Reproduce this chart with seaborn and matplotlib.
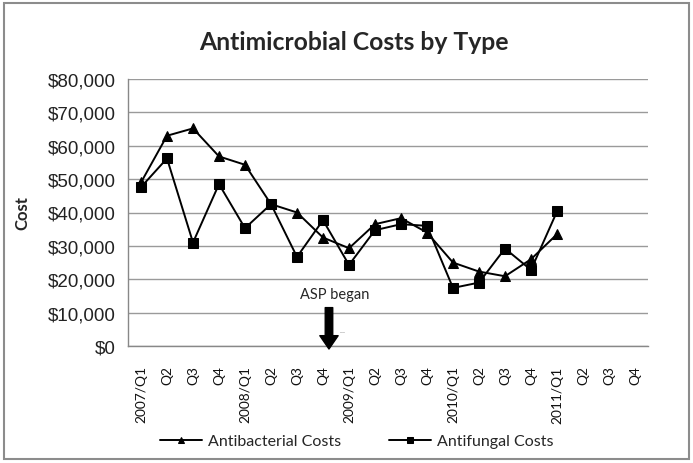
import matplotlib
matplotlib.use("Agg")
import matplotlib.pyplot as plt
import matplotlib.patches as mpatches
import seaborn as sns
import pandas as pd
import numpy as np

# Quarterly categories shown on the x axis
quarters = ["2007/Q1", "Q2", "Q3", "Q4",
            "2008/Q1", "Q2", "Q3", "Q4",
            "2009/Q1", "Q2", "Q3", "Q4",
            "2010/Q1", "Q2", "Q3", "Q4",
            "2011/Q1", "Q2", "Q3", "Q4"]

# Costs per quarter (2007/Q1 .. 2011/Q1)
antibacterial = [49000, 63000, 65200, 56800, 54300, 42500, 40000, 32500, 29300,
                 36500, 38300, 34000, 25000, 22300, 20900, 26000, 33500]
antifungal = [47600, 56200, 31000, 48500, 35300, 42500, 26700, 37700, 24300,
              34700, 36500, 36000, 17400, 19000, 29200, 22800, 40300]

y_ticks = [0, 10000, 20000, 30000, 40000, 50000, 60000, 70000, 80000]

df = pd.DataFrame({
    "pos": list(range(len(antibacterial))) * 2,
    "Cost": antibacterial + antifungal,
    "Series": ["Antibacterial Costs"] * len(antibacterial)
              + ["Antifungal Costs"] * len(antifungal),
})

sns.set_theme(style="white")
plt.rcParams["font.family"] = ["Lato", "DejaVu Sans"]

fig = plt.figure(figsize=(6.93, 4.64), dpi=100)
ax = fig.add_axes([128 / 693, 1 - 347 / 464, (648 - 128) / 693, (347 - 80) / 464])

sns.lineplot(data=df, x="pos", y="Cost", hue="Series", style="Series",
             markers={"Antibacterial Costs": "^", "Antifungal Costs": "s"},
             dashes=False, palette=["black", "black"], linewidth=1.4,
             markersize=7, markeredgecolor="black", ax=ax, legend=True)

ax.set_xlim(-0.5, len(quarters) - 0.5)
ax.set_ylim(0, 80000)

# horizontal gridlines
ax.set_yticks(y_ticks)
ax.set_yticklabels([f"${v:,.0f}" for v in y_ticks], fontsize=13.5,
                   family="Liberation Sans", color="#222222")
ax.yaxis.grid(True, color="#9a9a9a", linewidth=1.0)
ax.set_axisbelow(True)

# category boundaries get tick marks; labels sit at centres
ax.set_xticks(np.arange(-0.5, len(quarters), 1.0))
ax.set_xticklabels([])
ax.set_xticks(np.arange(len(quarters)), minor=True)
ax.set_xticklabels(quarters, minor=True, rotation=90, fontsize=9.9, color="#111111")
ax.tick_params(axis="x", which="major", direction="out", length=5, color="#888888", width=1)
ax.tick_params(axis="x", which="minor", length=0, pad=14)
ax.tick_params(axis="y", direction="out", length=5, color="#888888", width=1, pad=4)

for side in ["top", "right"]:
    ax.spines[side].set_visible(False)
for side in ["left", "bottom"]:
    ax.spines[side].set_color("#888888")
    ax.spines[side].set_linewidth(1.0)

ax.set_xlabel("")
ax.set_ylabel("Cost", fontsize=12, fontweight="bold", labelpad=12)

fig.text(354 / 693, 1 - 42 / 464, "Antimicrobial Costs by Type", ha="center", va="center",
         fontsize=17.8, fontweight="bold")

# ASP start marker
ax.text(7.46, 15600, "ASP began", ha="center", va="center", fontsize=10.5)
ax.annotate("", xy=(7.23, -900), xytext=(7.23, 11500),
            arrowprops=dict(arrowstyle="simple,head_width=1.1,head_length=0.8,tail_width=0.45",
                            color="black", shrinkA=0, shrinkB=0),
            annotation_clip=False)
ax.text(7.75, 5000, "...", ha="center", va="center", fontsize=6, color="#888888")

leg = ax.legend(loc="center", bbox_to_anchor=(357 / 693, 1 - 442 / 464),
                bbox_transform=fig.transFigure, ncol=2, frameon=False,
                fontsize=11.5, handlelength=2.6, columnspacing=3.0,
                handletextpad=0.4)
for line in leg.get_lines():
    line.set_markersize(5)

# chart frame
fig.patches.append(mpatches.Rectangle((4 / 693, 4 / 464), 1 - 8 / 693, 1 - 8 / 464,
                                      transform=fig.transFigure, fill=False,
                                      edgecolor="#8c8c8c", linewidth=1.5))

fig.savefig("out.png", dpi=100)
